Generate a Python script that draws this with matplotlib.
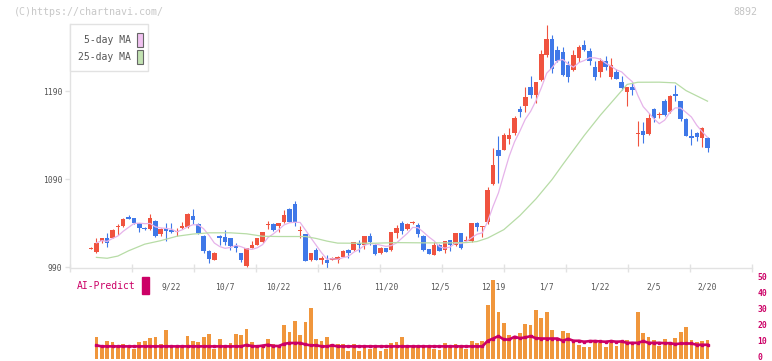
import matplotlib
matplotlib.use("Agg")
import matplotlib.pyplot as plt
from matplotlib.patches import Rectangle
import matplotlib.transforms as mtransforms
import numpy as np
import pandas as pd

# daily candles (yen)
opens = [1011, 1008, 1020, 1024, 1023, 1036, 1037, 1047, 1046, 1041,
         1035, 1034, 1043, 1028, 1035, 1033, 1030, 1035, 1036, 1049,
         1039, 1026, 1009, 999, 1026, 1025, 1023, 1014, 1006, 992,
         1012, 1016, 1019, 1038, 1039, 1037, 1042, 1057, 1062, 1031,
         1028, 998, 1010, 999, 999, 999, 999, 1002, 1010, 1010,
         1018, 1016, 1026, 1016, 1006, 1012, 1010, 1029, 1041, 1034,
         1040, 1038, 1026, 1011, 1004, 1015, 1010, 1021, 1016, 1029,
         1020, 1020, 1040, 1036, 1042, 1085, 1124, 1124, 1136, 1143,
         1170, 1173, 1195, 1186, 1203, 1232, 1250, 1237, 1235, 1220,
         1214, 1228, 1243, 1236, 1218, 1212, 1225, 1206, 1212, 1201,
         1189, 1195, 1142, 1145, 1142, 1170, 1163, 1179, 1167, 1187,
         1179, 1159, 1139, 1143, 1137, 1137]
highs = [1013, 1024, 1024, 1029, 1034, 1039, 1046, 1050, 1046, 1041,
         1036, 1051, 1044, 1035, 1040, 1040, 1035, 1042, 1052, 1056,
         1040, 1027, 1010, 1008, 1027, 1033, 1024, 1018, 1007, 1012,
         1020, 1024, 1030, 1043, 1040, 1041, 1055, 1058, 1065, 1037,
         1028, 1006, 1012, 1003, 1004, 1002, 1003, 1010, 1011, 1019,
         1021, 1026, 1029, 1017, 1013, 1012, 1030, 1038, 1043, 1041,
         1043, 1041, 1027, 1011, 1019, 1017, 1020, 1021, 1029, 1029,
         1026, 1041, 1042, 1037, 1081, 1126, 1139, 1143, 1148, 1162,
         1174, 1195, 1208, 1201, 1237, 1266, 1254, 1242, 1241, 1225,
         1237, 1243, 1249, 1239, 1225, 1228, 1230, 1228, 1216, 1208,
         1195, 1201, 1156, 1155, 1165, 1171, 1167, 1181, 1186, 1197,
         1179, 1160, 1147, 1144, 1150, 1138]
lows = [1011, 1007, 1018, 1013, 1023, 1027, 1036, 1045, 1039, 1030,
        1033, 1033, 1025, 1026, 1020, 1029, 1026, 1034, 1035, 1039,
        1028, 1006, 995, 999, 1015, 1015, 1010, 1008, 996, 991,
        1012, 1016, 1018, 1034, 1032, 1030, 1041, 1042, 1037, 1023,
        997, 997, 998, 994, 989, 998, 995, 1002, 1001, 1009,
        1008, 1011, 1015, 1004, 1005, 1008, 1009, 1024, 1028, 1033,
        1039, 1025, 1009, 1005, 1004, 1009, 1006, 1009, 1014, 1011,
        1020, 1019, 1032, 1025, 1039, 1084, 1086, 1123, 1130, 1140,
        1161, 1167, 1183, 1177, 1202, 1229, 1211, 1223, 1208, 1201,
        1213, 1223, 1236, 1220, 1203, 1207, 1214, 1204, 1204, 1192,
        1174, 1186, 1128, 1131, 1140, 1155, 1160, 1162, 1166, 1179,
        1157, 1139, 1129, 1134, 1127, 1121]
closes = [1012, 1018, 1023, 1018, 1033, 1037, 1045, 1045, 1040, 1035,
          1034, 1046, 1026, 1034, 1032, 1030, 1031, 1037, 1051, 1044,
          1029, 1009, 1000, 1007, 1024, 1019, 1014, 1012, 999, 1012,
          1016, 1023, 1030, 1039, 1033, 1040, 1050, 1042, 1042, 1032,
          997, 1006, 999, 1000, 995, 1000, 1002, 1009, 1007, 1019,
          1015, 1026, 1019, 1005, 1012, 1008, 1030, 1035, 1032, 1039,
          1042, 1028, 1010, 1005, 1016, 1009, 1020, 1016, 1029, 1012,
          1021, 1041, 1036, 1037, 1078, 1106, 1117, 1141, 1140, 1160,
          1167, 1184, 1186, 1201, 1233, 1250, 1215, 1225, 1209, 1207,
          1232, 1241, 1237, 1225, 1206, 1225, 1218, 1220, 1204, 1194,
          1195, 1192, 1143, 1140, 1160, 1160, 1164, 1163, 1185, 1185,
          1159, 1139, 1137, 1138, 1149, 1126]

# volume panel (right scale 0-50) and AI-Predict line
volume = [np.nan, 13.5, 7.7, 11.0, 10.4, 7.7, 8.9, 7.7, 6.0, 10.4,
          11.0, 12.8, 13.5, 9.1, 17.8, 7.7, 7.7, 7.7, 14.1, 11.0,
          10.4, 13.5, 15.3, 6.0, 12.2, 7.7, 9.7, 15.3, 14.7, 18.4,
          10.4, 7.7, 7.7, 12.2, 9.1, 7.7, 20.9, 16.6, 23.4, 14.7,
          22.8, 31.5, 12.2, 11.0, 13.5, 9.1, 9.1, 9.1, 4.8, 9.1,
          4.8, 6.6, 6.0, 6.6, 5.0, 6.0, 10.0, 10.4, 13.5, 7.7,
          7.7, 7.7, 7.7, 7.7, 6.0, 5.4, 9.7, 7.7, 9.1, 7.7,
          6.0, 11.0, 9.7, 11.0, 33.3, 49.5, 29.0, 22.2, 14.7, 14.1,
          15.9, 21.5, 20.9, 30.2, 25.3, 29.0, 17.8, 11.0, 17.2, 15.9,
          11.6, 8.5, 7.2, 7.2, 11.6, 9.7, 7.2, 9.7, 7.9, 10.4,
          11.6, 9.1, 29.0, 15.9, 13.5, 11.6, 7.9, 12.2, 10.4, 12.8,
          16.6, 19.7, 11.6, 10.4, 11.0, 11.6]
ai_predict = [np.nan, 8.3, 7.7, 7.7, 7.7, 7.7, 7.7, 7.7, 7.7, 7.7,
              7.7, 7.7, 7.7, 7.7, 7.7, 7.7, 7.7, 7.7, 7.7, 7.7,
              7.7, 7.7, 7.7, 7.7, 7.7, 7.7, 7.7, 7.7, 7.7, 8.6,
              7.9, 7.7, 8.2, 8.7, 8.0, 7.9, 9.3, 9.8, 9.8, 9.8,
              8.9, 8.3, 8.4, 7.7, 7.7, 8.3, 7.7, 7.7, 7.7, 7.7,
              7.7, 7.7, 7.7, 7.7, 7.7, 7.7, 7.7, 7.7, 7.7, 7.7,
              7.7, 7.7, 7.7, 7.7, 7.7, 7.7, 7.7, 7.7, 7.7, 7.7,
              7.7, 7.7, 7.7, 7.7, 11.2, 12.6, 14.1, 12.0, 12.0, 13.7,
              12.8, 13.3, 14.1, 12.8, 12.6, 12.6, 12.6, 12.6, 11.2, 12.4,
              11.2, 11.2, 10.6, 11.0, 11.0, 10.8, 10.6, 11.0, 10.6, 10.8,
              9.9, 9.9, 9.9, 11.0, 9.9, 9.9, 9.9, 9.7, 9.7, 9.1,
              9.5, 9.5, 9.5, 8.7, 8.7, 8.7]

# 25-day MA read at selected days
ma25_day = [1, 3, 5, 7, 10, 13, 16, 19, 22, 26, 29, 32, 35, 38, 40, 42, 44,
            46, 49, 53, 57, 62, 67, 70, 72, 74, 77, 80, 83, 86, 88, 92, 95,
            98, 100, 102, 106, 109, 111, 113, 115]
ma25_val = [1001.5, 1000.5, 1003, 1009, 1016.5, 1020.5, 1025.5, 1028, 1029.4,
            1029.4, 1028.3, 1025.5, 1025.2, 1025.2, 1025.2, 1023, 1020, 1017.7,
            1017.6, 1017.6, 1018.3, 1018, 1018, 1018.3, 1019.5, 1023.5, 1033,
            1049, 1068, 1090, 1107, 1140, 1163, 1184, 1198, 1200.5, 1200.6,
            1199.8, 1191, 1185, 1179]

date_labels = ["9/22", "10/7", "10/22", "11/6", "11/20", "12/5",
               "12/19", "1/7", "1/22", "2/5", "2/20"]
date_day = [15, 25, 35, 45, 55, 65, 75, 85, 95, 105, 115]

RED = "#F0533F"
BLUE = "#3F78E8"
GRID = "#E2E2E2"
AI = "#CC0066"
MONO = "DejaVu Sans Mono"

W, H = 772, 361
fig = plt.figure(figsize=(W / 100, H / 100), dpi=100)


def fx(px):
    return px / W


def fy(py):
    return 1 - py / H


day = np.arange(len(closes))
xlo, xhi = -3.93, 123.3

# price panel
ax = fig.add_axes([fx(70), fy(268), fx(752) - fx(70), fy(24) - fy(268)])
ax.set_xlim(xlo, xhi)
ax.set_ylim(989.43, 1266.7)

o = np.array(opens, float)
c = np.array(closes, float)
up = c >= o
cols = np.where(up, RED, BLUE)
bottoms = np.minimum(o, c)
heights = np.maximum(np.abs(c - o), 1.3)
ax.vlines(day, lows, highs, colors=cols, lw=0.8, zorder=2, clip_on=False)
ax.bar(day, heights, bottom=bottoms, width=0.84, color=cols, zorder=3,
       clip_on=False)

ma5 = pd.Series(closes[1:]).rolling(5, min_periods=1).mean()
ax.plot(day[1:], ma5, color="#E6B3EA", lw=0.9, zorder=4)
ax.plot(ma25_day, ma25_val, color="#B7DCA6", lw=0.9, zorder=4)

for s in ["top", "right"]:
    ax.spines[s].set_visible(False)
for s in ["left", "bottom"]:
    ax.spines[s].set_color(GRID)
    ax.spines[s].set_linewidth(1.0)

ax.set_yticks([990, 1090, 1190])
ax.tick_params(axis="y", length=3.6, width=1, color=GRID, pad=2,
               labelsize=5.8, labelcolor="#555555")
for t in ax.get_yticklabels():
    t.set_fontfamily(MONO)
ax.set_xticks([])
ax.set_xticks(np.linspace(xlo, xhi, 12), minor=True)
ax.tick_params(axis="x", which="minor", direction="inout", length=5.8,
               width=1, color=GRID)

trans = mtransforms.blended_transform_factory(ax.transData, fig.transFigure)
for d, lab in zip(date_day, date_labels):
    ax.text(d, fy(286.5), lab, transform=trans, ha="center", va="center",
            fontsize=5.8, color="#555555", family=MONO, clip_on=False,
            zorder=10)

# volume / AI panel
axv = fig.add_axes([fx(70), fy(361), fx(752) - fx(70), fy(270) - fy(361)])
axv.patch.set_visible(False)
axv.set_xlim(xlo, xhi)
axv.set_ylim(-1.44, 55.44)
axv.bar(day, volume, width=0.7, color="#F0963C", zorder=2)
axv.plot(day, ai_predict, color=AI, lw=1.9, marker="s", ms=2.0, zorder=3)
for s in axv.spines.values():
    s.set_visible(False)
axv.set_xticks([])
axv.yaxis.tick_right()
axv.set_yticks([0, 10, 20, 30, 40, 50])
axv.tick_params(axis="y", length=0, pad=3.8, labelsize=5.8, labelcolor=AI)
lift = mtransforms.ScaledTranslation(0, 2 / 100, fig.dpi_scale_trans)
for t in axv.get_yticklabels():
    t.set_fontfamily(MONO)
    t.set_fontweight("bold")
    t.set_transform(t.get_transform() + lift)

fig.text(fx(77), fy(286), "AI-Predict", ha="left", va="center",
         fontsize=7, color=AI, family=MONO)
fig.patches.append(Rectangle((fx(142), fy(294)), fx(7), fy(277) - fy(294),
                             transform=fig.transFigure, color=AI))

# header texts
fig.text(fx(14), fy(12), "(C)https://chartnavi.com/", ha="left", va="center",
         fontsize=7.2, color="#C8C8C8", family=MONO)
fig.text(fx(757), fy(12), "8892", ha="right", va="center",
         fontsize=7.2, color="#C4C4C4", family=MONO)

# legend box
fig.patches.append(Rectangle((fx(70), fy(71)), fx(78), fy(24) - fy(71),
                             transform=fig.transFigure, facecolor="white",
                             edgecolor=GRID, lw=1, zorder=5))
for yy, lab, sw in [(40, "5-day MA", "#F0C2F0"), (57, "25-day MA", "#C2E2B2")]:
    fig.text(fx(131), fy(yy), lab, ha="right", va="center", fontsize=7,
             color="#555555", family=MONO, zorder=6)
    fig.patches.append(Rectangle((fx(137), fy(yy + 7)), fx(6), fy(yy - 7) - fy(yy + 7),
                                 transform=fig.transFigure, facecolor=sw,
                                 edgecolor="#666666", lw=0.8, zorder=6))

fig.savefig("out.png", dpi=100)
